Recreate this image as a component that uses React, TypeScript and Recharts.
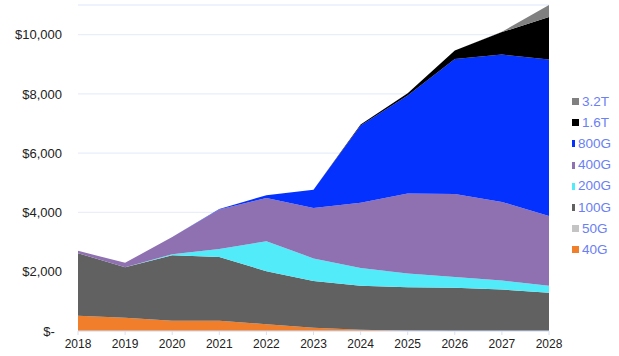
import { AreaChart, Area, XAxis, YAxis, CartesianGrid, Legend } from 'recharts';

const years = ['2018', '2019', '2020', '2021', '2022', '2023', '2024', '2025', '2026', '2027', '2028'];
const g40 = [515, 450, 350, 350, 225, 110, 40, 10, 0, 0, 0];
const g50 = [0, 0, 0, 0, 0, 0, 0, 0, 0, 0, 0];
const g100 = [2110, 1705, 2210, 2150, 1795, 1573, 1485, 1470, 1460, 1400, 1290];
const g200 = [0, 0, 30, 270, 1010, 767, 605, 460, 360, 305, 235];
const g400 = [80, 145, 585, 1330, 1460, 1700, 2200, 2700, 2805, 2650, 2355];
const g800 = [0, 0, 0, 20, 90, 620, 2606, 3306, 4557, 4971, 5278];
const t16 = [0, 0, 0, 0, 0, 0, 35, 75, 280, 760, 1435];
const t32 = [0, 0, 0, 0, 0, 0, 0, 0, 0, 10, 405];
const yTicks = [0, 2000, 4000, 6000, 8000, 10000];

const series = [
  { key: 'g40', name: '40G', color: '#F07E2A', values: g40 },
  { key: 'g50', name: '50G', color: '#C4C4C4', values: g50 },
  { key: 'g100', name: '100G', color: '#616161', values: g100 },
  { key: 'g200', name: '200G', color: '#52EBFA', values: g200 },
  { key: 'g400', name: '400G', color: '#8F70B1', values: g400 },
  { key: 'g800', name: '800G', color: '#0531FF', values: g800 },
  { key: 't16', name: '1.6T', color: '#000000', values: t16 },
  { key: 't32', name: '3.2T', color: '#808080', values: t32 },
];

const data = years.map((year, i) => {
  const row: Record<string, string | number> = { year };
  series.forEach((s) => {
    row[s.key] = s.values[i];
  });
  return row;
});

// accounting style: zero shows as "$-" with trailing padding
const fmt = (v: number) => (v === 0 ? '$-\u2007' : '$' + v.toLocaleString('en-US'));

function LegendList() {
  return (
    <div style={{ paddingLeft: 23 }}>
      {[...series].reverse().map((s) => (
        <div key={s.key} style={{ display: 'flex', alignItems: 'center', height: 21.2 }}>
          <span style={{ display: 'inline-block', width: 7, height: 7, background: s.color, marginRight: 3 }} />
          <span style={{ color: '#6A80F4', fontSize: 13.5, lineHeight: '14px' }}>{s.name}</span>
        </div>
      ))}
    </div>
  );
}

export default function App() {
  return (
    <div style={{ position: 'absolute', left: 0, top: 0, width: 619, height: 356, background: '#fff', fontFamily: '"Liberation Sans", Arial, sans-serif' }}>
      <AreaChart width={619} height={356} data={data} margin={{ top: 5, right: 8, left: 0, bottom: 0 }}>
        <CartesianGrid stroke="#E9EEFB" strokeWidth={1.3} vertical={false} />
        <XAxis
          dataKey="year"
          height={25}
          tick={{ fill: '#222', fontSize: 12 }}
          axisLine={{ stroke: '#D9E0F2' }}
          tickLine={{ stroke: '#D9E0F2' }}
          tickSize={4}
          tickMargin={4}
          interval={0}
        />
        <YAxis
          width={78}
          domain={[0, 11000]}
          ticks={yTicks}
          tickFormatter={fmt}
          tick={{ fill: '#222', fontSize: 13 }}
          axisLine={false}
          tickLine={false}
          tickSize={8}
          tickMargin={8}
        />
        <Legend
          layout="vertical"
          align="right"
          verticalAlign="top"
          content={<LegendList />}
          wrapperStyle={{ width: 62, top: 91 }}
        />
        {series.map((s) => (
          <Area
            key={s.key}
            type="linear"
            dataKey={s.key}
            name={s.name}
            stackId="1"
            stroke="none"
            fill={s.color}
            fillOpacity={1}
            isAnimationActive={false}
          />
        ))}
      </AreaChart>
    </div>
  );
}
